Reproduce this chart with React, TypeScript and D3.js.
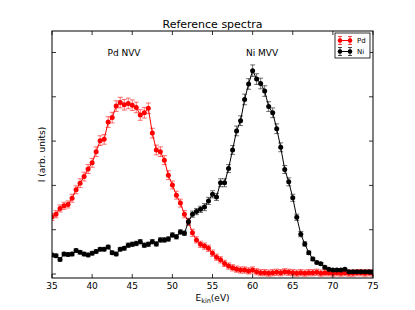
import React from 'react';
import * as d3 from 'd3';

// kinetic energy grid (eV)
const energy = [
  35, 35.5, 36, 36.5, 37, 37.5, 38, 38.5, 39, 39.5, 40, 40.5, 41, 41.5, 42, 42.5, 43, 43.5, 44, 44.5,
  45, 45.5, 46, 46.5, 47, 47.5, 48, 48.5, 49, 49.5, 50, 50.5, 51, 51.5, 52, 52.5, 53, 53.5, 54, 54.5,
  55, 55.5, 56, 56.5, 57, 57.5, 58, 58.5, 59, 59.5, 60, 60.5, 61, 61.5, 62, 62.5, 63, 63.5, 64, 64.5,
  65, 65.5, 66, 66.5, 67, 67.5, 68, 68.5, 69, 69.5, 70, 70.5, 71, 71.5, 72, 72.5, 73, 73.5, 74, 74.5, 75,
];

const pdCounts = [
  1.29, 1.35, 1.48, 1.54, 1.57, 1.71, 1.90, 2.05, 2.20, 2.37, 2.51, 2.76, 3.01, 3.04, 3.43, 3.53, 3.79, 3.87, 3.82, 3.85,
  3.81, 3.76, 3.59, 3.64, 3.74, 3.18, 2.80, 2.76, 2.57, 2.23, 2.01, 1.78, 1.60, 1.35, 1.18, 0.93, 0.77, 0.67, 0.63, 0.58,
  0.47, 0.38, 0.32, 0.24, 0.18, 0.14, 0.11, 0.09, 0.09, 0.07, 0.09, 0.05, 0.03, 0.03, 0.02, 0.03, 0.04, 0.03, 0.05, 0.04,
  0.03, 0.02, 0.03, 0.02, 0.03, 0.03, 0.04, 0.02, 0.03, 0.03, 0.02, 0.03, 0.02, 0.03, 0.02, 0.02, 0.03, 0.03, 0.02, 0.03, 0.02,
];
const pdErr = [
  0.08, 0.08, 0.08, 0.08, 0.08, 0.09, 0.09, 0.10, 0.10, 0.10, 0.10, 0.11, 0.11, 0.11, 0.12, 0.12, 0.12, 0.12, 0.12, 0.12,
  0.12, 0.12, 0.12, 0.12, 0.12, 0.11, 0.11, 0.11, 0.10, 0.10, 0.09, 0.09, 0.09, 0.08, 0.08, 0.08, 0.07, 0.07, 0.07, 0.07,
  0.07, 0.07, 0.07, 0.07, 0.07, 0.07, 0.07, 0.07, 0.07, 0.07, 0.07, 0.07, 0.07, 0.07, 0.07, 0.07, 0.07, 0.07, 0.07, 0.07,
  0.07, 0.07, 0.07, 0.07, 0.07, 0.07, 0.07, 0.07, 0.07, 0.07, 0.07, 0.07, 0.07, 0.07, 0.07, 0.07, 0.07, 0.07, 0.07, 0.07, 0.07,
];

const niCounts = [
  0.43, 0.41, 0.33, 0.45, 0.44, 0.45, 0.53, 0.49, 0.45, 0.43, 0.47, 0.51, 0.56, 0.56, 0.61, 0.48, 0.45, 0.56, 0.58, 0.65,
  0.67, 0.69, 0.73, 0.65, 0.67, 0.73, 0.68, 0.77, 0.77, 0.79, 0.88, 0.84, 0.95, 0.92, 1.18, 1.35, 1.41, 1.46, 1.51, 1.65,
  1.80, 1.74, 2.06, 2.06, 2.38, 2.80, 3.23, 3.46, 3.94, 4.29, 4.59, 4.40, 4.30, 4.13, 3.78, 3.64, 3.28, 2.86, 2.36, 2.08,
  1.72, 1.28, 0.90, 0.68, 0.48, 0.34, 0.26, 0.23, 0.15, 0.11, 0.09, 0.09, 0.09, 0.11, 0.05, 0.05, 0.05, 0.05, 0.05, 0.05, 0.05,
];
const niErr = [
  0.04, 0.04, 0.04, 0.04, 0.04, 0.04, 0.04, 0.04, 0.04, 0.04, 0.04, 0.04, 0.04, 0.04, 0.04, 0.04, 0.04, 0.04, 0.04, 0.05,
  0.05, 0.05, 0.05, 0.05, 0.05, 0.05, 0.05, 0.05, 0.05, 0.05, 0.05, 0.05, 0.05, 0.05, 0.07, 0.07, 0.07, 0.07, 0.08, 0.08,
  0.08, 0.08, 0.09, 0.09, 0.09, 0.10, 0.11, 0.11, 0.12, 0.12, 0.13, 0.12, 0.12, 0.12, 0.11, 0.11, 0.11, 0.10, 0.09, 0.09,
  0.08, 0.07, 0.06, 0.05, 0.04, 0.04, 0.03, 0.03, 0.03, 0.02, 0.02, 0.02, 0.02, 0.02, 0.02, 0.02, 0.02, 0.02, 0.02, 0.02, 0.02,
];

const xTicks = [35, 40, 45, 50, 55, 60, 65, 70, 75];
const yTicks = [0, 1, 2, 3, 4, 5];

const W = 415;
const H = 310;
const left = 52, right = 373, top = 31, bottom = 278;
const font = 'DejaVu Sans, sans-serif';

const x = d3.scaleLinear().domain([35, 75]).range([left, right]);
const y = d3.scaleLinear().domain([-0.09, 5.485]).range([bottom, top]);

const Series: React.FC<{ vals: number[]; errs: number[]; color: string }> = ({ vals, errs, color }) => {
  const line = d3.line<number>()
    .x((_, i) => x(energy[i]))
    .y(d => y(d));
  return (
    <g>
      <path d={line(vals) || ''} fill="none" stroke={color} strokeWidth={1} />
      {vals.map((v, i) => {
        const cx = x(energy[i]);
        const y1 = y(v - errs[i]);
        const y2 = y(v + errs[i]);
        return (
          <g key={i} stroke={color} strokeWidth={0.7} strokeOpacity={0.8}>
            <line x1={cx} x2={cx} y1={y1} y2={y2} />
            <line x1={cx - 2.5} x2={cx + 2.5} y1={y1} y2={y1} />
            <line x1={cx - 2.5} x2={cx + 2.5} y1={y2} y2={y2} />
          </g>
        );
      })}
      {vals.map((v, i) => (
        <circle key={i} cx={x(energy[i])} cy={y(v)} r={2.5} fill={color} />
      ))}
    </g>
  );
};

const LegendEntry: React.FC<{ cy: number; color: string; label: string }> = ({ cy, color, label }) => (
  <g>
    <line x1={340} x2={350} y1={cy} y2={cy} stroke={color} strokeWidth={1} />
    {[340, 350].map(cx => (
      <g key={cx} stroke={color} strokeWidth={0.7}>
        <line x1={cx} x2={cx} y1={cy - 4} y2={cy + 4} />
        <line x1={cx - 2} x2={cx + 2} y1={cy - 4} y2={cy - 4} />
        <line x1={cx - 2} x2={cx + 2} y1={cy + 4} y2={cy + 4} />
        <circle cx={cx} cy={cy} r={2.3} fill={color} stroke="none" />
      </g>
    ))}
    <text x={357} y={cy} dy="0.35em" fontSize={7} fontFamily={font}>{label}</text>
  </g>
);

export default function App() {
  return (
    <svg width={W} height={H} style={{ position: 'absolute', left: 0, top: 0, background: '#fff' }}>
      <defs>
        <clipPath id="plot">
          <rect x={left} y={top} width={right - left} height={bottom - top} />
        </clipPath>
      </defs>
      <text x={(left + right) / 2} y={24} dy="0.35em" textAnchor="middle" fontSize={11} fontFamily={font}>
        Reference spectra
      </text>

      <g clipPath="url(#plot)">
        <Series vals={pdCounts} errs={pdErr} color="#ff0000" />
        <Series vals={niCounts} errs={niErr} color="#000000" />
      </g>

      {/* ticks, inward on all sides */}
      <g stroke="#000" strokeWidth={0.8}>
        {xTicks.map(t => (
          <g key={t}>
            <line x1={x(t)} x2={x(t)} y1={bottom} y2={bottom - 4} />
            <line x1={x(t)} x2={x(t)} y1={top} y2={top + 4} />
          </g>
        ))}
        {yTicks.map(t => (
          <g key={t}>
            <line x1={left} x2={left + 4} y1={y(t)} y2={y(t)} />
            <line x1={right} x2={right - 4} y1={y(t)} y2={y(t)} />
          </g>
        ))}
      </g>
      <rect x={left} y={top} width={right - left} height={bottom - top} fill="none" stroke="#000" strokeWidth={1} />

      {xTicks.map(t => (
        <text key={t} x={x(t)} y={285.5} dy="0.35em" textAnchor="middle" fontSize={9} fontFamily={font}>
          {t}
        </text>
      ))}
      <text x={(left + right) / 2} y={297.5} dy="0.35em" textAnchor="middle" fontSize={9} fontFamily={font}>
        E<tspan fontSize={6.5} dy="2">kin</tspan><tspan dy="-2">(eV)</tspan>
      </text>
      <text transform={`translate(42,${(top + bottom) / 2}) rotate(-90)`} dy="0.35em" textAnchor="middle" fontSize={9} fontFamily={font}>
        I (arb. units)
      </text>

      <text x={124} y={53} dy="0.35em" textAnchor="middle" fontSize={9} fontFamily={font}>Pd NVV</text>
      <text x={262} y={53} dy="0.35em" textAnchor="middle" fontSize={9} fontFamily={font}>Ni MVV</text>

      <rect x={335} y={33} width={35} height={25} fill="#fff" stroke="#000" strokeWidth={0.8} />
      <LegendEntry cy={40.5} color="#ff0000" label="Pd" />
      <LegendEntry cy={51.5} color="#000000" label="Ni" />
    </svg>
  );
}
